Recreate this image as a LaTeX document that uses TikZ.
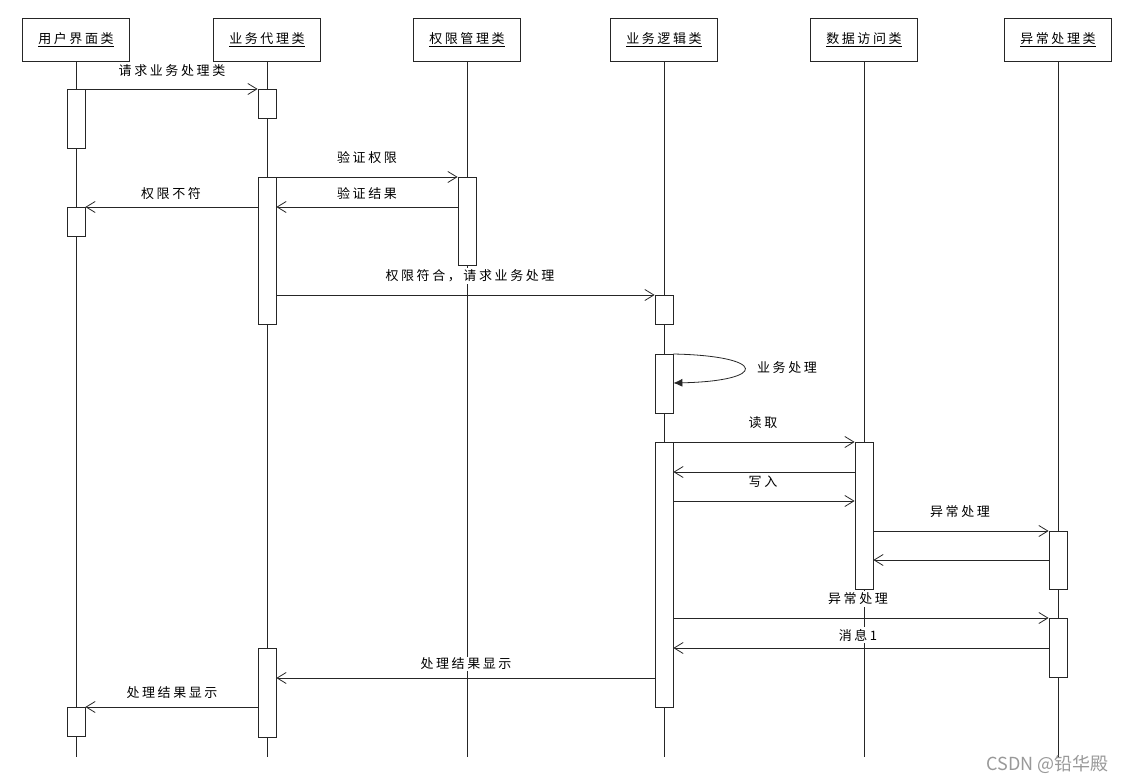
\documentclass[tikz,border=0pt]{standalone}
\usepackage{fontspec}
\newfontfamily\cjk[LetterSpace=20]{Noto Sans CJK SC}
\newfontfamily\wmfont{Noto Sans CJK SC}
\usetikzlibrary{arrows.meta}
\begin{document}
\begin{tikzpicture}[x=1pt,y=-1pt,
  head/.style={draw=black!85, line width=0.8pt, minimum width=107pt, minimum height=43pt, inner sep=0pt, font=\cjk\fontsize{13}{15}\selectfont},
  life/.style={draw=black!85, line width=0.8pt},
  act/.style={draw=black!85, fill=white, line width=0.8pt, minimum width=18pt, inner sep=0pt, anchor=north},
  msg/.style={draw=black!85, line width=0.8pt, -{Straight Barb[length=9pt,width=11pt,line width=0.8pt]}},
  selfmsg/.style={draw=black!85, line width=0.8pt, -{Latex[length=9pt,width=8pt]}},
  lbl/.style={fill=white, inner sep=1.5pt, font=\cjk\fontsize{13}{15}\selectfont}]
\useasboundingbox[fill=white] (0,0) rectangle (1127,783);

% heads
\node[head] (hA) at (76,39.5)   {\underline{用户界面类}};
\node[head] (hB) at (267,39.5)  {\underline{业务代理类}};
\node[head] (hC) at (467,39.5)  {\underline{权限管理类}};
\node[head] (hD) at (664,39.5)  {\underline{业务逻辑类}};
\node[head] (hE) at (864,39.5)  {\underline{数据访问类}};
\node[head] (hF) at (1058,39.5) {\underline{异常处理类}};

% lifeline ends
\coordinate (eA) at (76,757);
\coordinate (eB) at (267,757);
\coordinate (eC) at (467,757);
\coordinate (eD) at (664,757);
\coordinate (eE) at (864,757);
\coordinate (eF) at (1058,757);
\foreach \n in {A,B,C,D,E,F} {\draw[life] (h\n.south) -- (e\n);}

% activations
\node[act, minimum height=59pt]  (A1) at (76,89)  {};
\node[act, minimum height=29pt]  (A2) at (76,207) {};
\node[act, minimum height=29pt]  (A3) at (76,707) {};
\node[act, minimum height=29pt]  (B1) at (267,89)  {};
\node[act, minimum height=147pt] (B2) at (267,177) {};
\node[act, minimum height=89pt]  (B3) at (267,648) {};
\node[act, minimum height=88pt]  (C1) at (467,177) {};
\node[act, minimum height=29pt]  (D1) at (664,295) {};
\node[act, minimum height=59pt]  (D2) at (664,354) {};
\node[act, minimum height=265pt] (D3) at (664,442) {};
\node[act, minimum height=147pt] (E1) at (864,442) {};
\node[act, minimum height=58pt]  (F1) at (1058,531) {};
\node[act, minimum height=59pt]  (F2) at (1058,618) {};

% messages
\draw[msg] (A1.north east) -- (B1.north west);
\node[lbl] (l1) at (172,71) {请求业务处理类};

\draw[msg] (B2.north east) -- (C1.north west);
\node[lbl] (l2) at (367,158) {验证权限};

\draw[msg] (C1.west |- 0,207) -- (B2.east |- 0,207);
\node[lbl] (l3) at (367,194) {验证结果};

\draw[msg] (B2.west |- 0,207) -- (A2.north east);
\node[lbl] (l4) at (171,194) {权限不符};

\draw[msg] (B2.east |- 0,295) -- (D1.north west);
\node[lbl] (l5) at (470,276) {权限符合，请求业务处理};

\draw[selfmsg] (D2.north east) .. controls (768,356) and (768,381) .. (D2.east |- 0,383);
\node[lbl] (l6) at (787,368) {业务处理};

\draw[msg] (D3.north east) -- (E1.north west);
\node[lbl] (l7) at (763,423) {读取};

\draw[msg] (E1.west |- 0,472) -- (D3.east |- 0,472);

\draw[msg] (D3.east |- 0,501) -- (E1.west |- 0,501);
\node[lbl] (l9) at (763,482) {写入};

\draw[msg] (E1.east |- 0,531) -- (F1.north west);
\node[lbl] (l10) at (960,512) {异常处理};

\draw[msg] (F1.west |- 0,560) -- (E1.east |- 0,560);

\draw[msg] (D3.east |- 0,618) -- (F2.north west);
\node[lbl] (l12) at (858,599) {异常处理};

\draw[msg] (F2.west |- 0,648) -- (D3.east |- 0,648);
\node[lbl] (l13) at (858,635) {消息1};

\draw[msg] (D3.west |- 0,678) -- (B3.east |- 0,678);
\node[lbl] (l14) at (466,664) {处理结果显示};

\draw[msg] (B3.west |- 0,707) -- (A3.north east);
\node[lbl] (l15) at (172,693) {处理结果显示};

% watermark
\node[font=\wmfont\fontsize{18}{20}\selectfont, text=black!40, anchor=east, inner sep=0pt] (wm) at (1109,764) {CSDN @铅华殿};
\end{tikzpicture}
\end{document}
